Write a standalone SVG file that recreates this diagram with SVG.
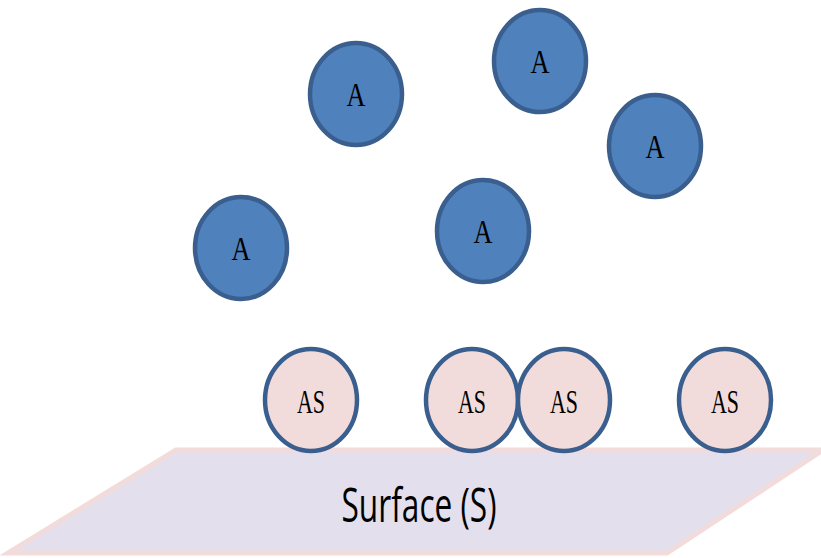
<svg xmlns="http://www.w3.org/2000/svg" width="821" height="558" viewBox="0 0 821 558">
<style>
.a{fill:#4f81bd;stroke:#3a5f8e;stroke-width:4.5}
.as{fill:#f2dcdb;stroke:#3a5f8e;stroke-width:4.5}
.ta{font-family:"Liberation Serif",serif;font-size:34px;fill:#000;text-anchor:middle}
.tas{font-family:"Liberation Serif",serif;font-size:33px;fill:#000;text-anchor:middle}
</style>
<rect width="821" height="558" fill="#fff"/>
<g id="surface">
<polygon points="176,450 823,450 667,553 8,553" fill="#e4dfec" stroke="#f2dcdb" stroke-width="5"/>
<text x="419" y="522" font-family="'Open Sans','Liberation Sans',sans-serif" font-size="47" textLength="155" lengthAdjust="spacingAndGlyphs" text-anchor="middle" fill="#000">Surface (S)</text>
</g>
<g id="A1"><ellipse class="a" cx="356" cy="94" rx="46" ry="51"/><text class="ta" x="356" y="106" textLength="19" lengthAdjust="spacingAndGlyphs">A</text></g>
<g id="A2"><ellipse class="a" cx="540" cy="61" rx="46" ry="51"/><text class="ta" x="540" y="73" textLength="19" lengthAdjust="spacingAndGlyphs">A</text></g>
<g id="A3"><ellipse class="a" cx="655" cy="146" rx="46" ry="51"/><text class="ta" x="655" y="158" textLength="19" lengthAdjust="spacingAndGlyphs">A</text></g>
<g id="A4"><ellipse class="a" cx="241" cy="248" rx="46" ry="51"/><text class="ta" x="241" y="260" textLength="19" lengthAdjust="spacingAndGlyphs">A</text></g>
<g id="A5"><ellipse class="a" cx="483" cy="231" rx="46" ry="51"/><text class="ta" x="483" y="243" textLength="19" lengthAdjust="spacingAndGlyphs">A</text></g>
<g id="AS1"><ellipse class="as" cx="311" cy="400" rx="46" ry="51"/><text class="tas" x="311" y="413" textLength="28" lengthAdjust="spacingAndGlyphs">AS</text></g>
<g id="AS2"><ellipse class="as" cx="472" cy="400" rx="46" ry="51"/><text class="tas" x="472" y="413" textLength="28" lengthAdjust="spacingAndGlyphs">AS</text></g>
<g id="AS3"><ellipse class="as" cx="564" cy="400" rx="46" ry="51"/><text class="tas" x="564" y="413" textLength="28" lengthAdjust="spacingAndGlyphs">AS</text></g>
<g id="AS4"><ellipse class="as" cx="725" cy="400" rx="46" ry="51"/><text class="tas" x="725" y="413" textLength="28" lengthAdjust="spacingAndGlyphs">AS</text></g>
<g id="connectors"/>
</svg>
